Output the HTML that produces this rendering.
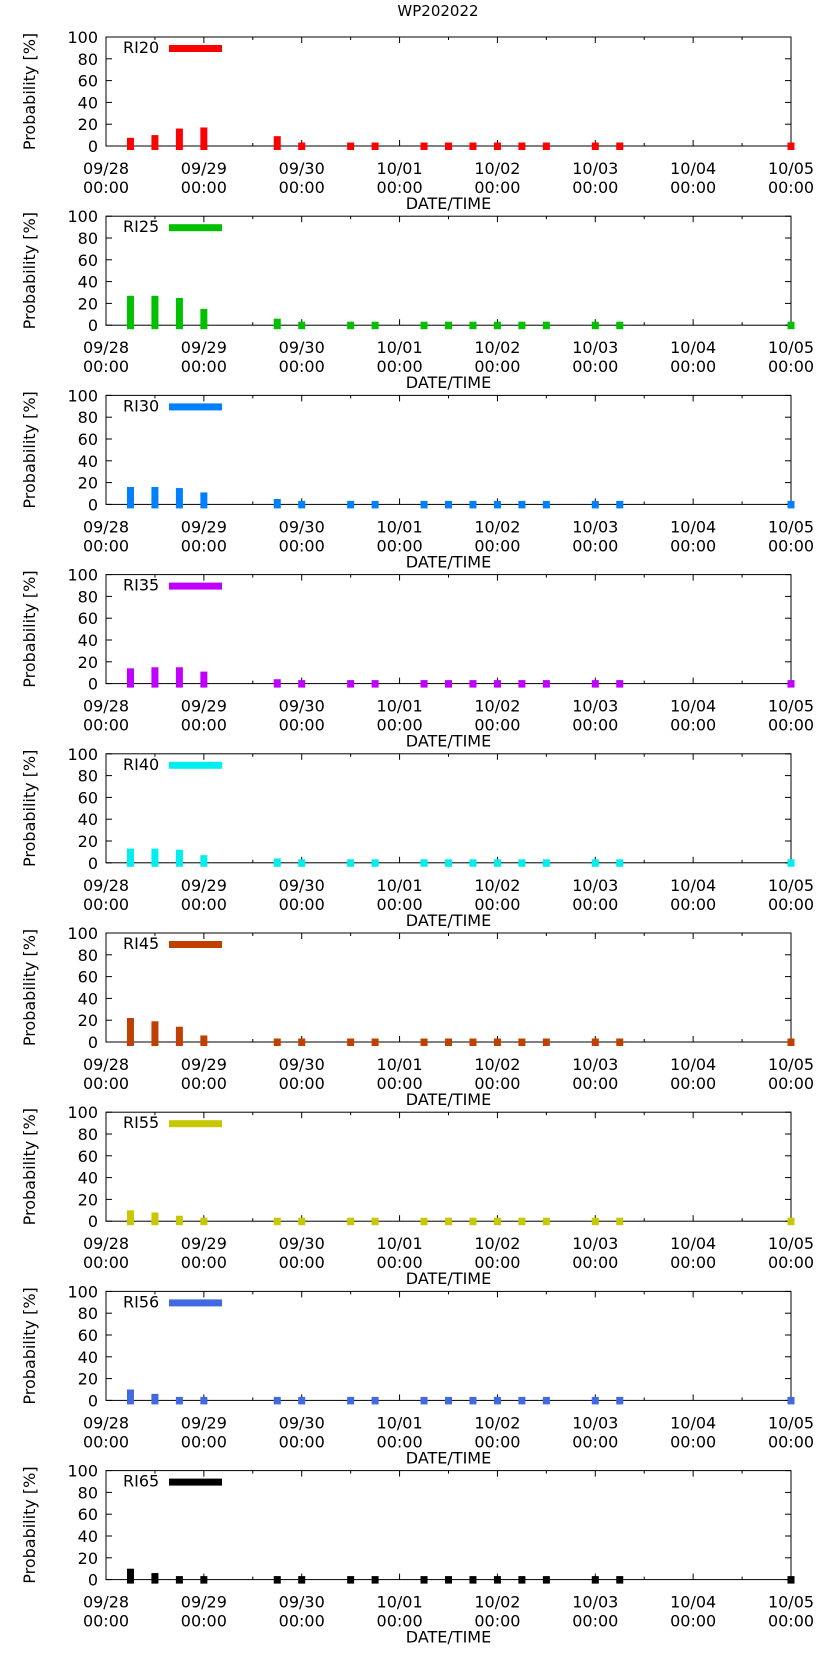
<!DOCTYPE html>
<html><head><meta charset="utf-8"><style>body{margin:0;background:#fff}svg{display:block}text{font-family:"DejaVu Sans","Liberation Sans",sans-serif;fill:#000}</style></head>
<body>
<svg id="c" width="822" height="1653" viewBox="0 0 822 1653" xmlns="http://www.w3.org/2000/svg">
<text x="438" y="16" font-size="15" text-anchor="middle">WP202022</text>
</svg>
<script>
const hours=[6,12,18,24,42,48,60,66,78,84,90,96,102,108,120,126,168];
const seriesNames=["RI20","RI25","RI30","RI35","RI40","RI45","RI55","RI56","RI65"];
const seriesColors=["#ff0000","#00c000","#0080ff","#c000ff","#00eeee","#c04000","#c8c800","#4169e1","#000000"];
const ri20=[7.5,10,16,17,9,0,0,0,0,0,0,0,0,0,0,0,0];
const ri25=[27,27,25,15,6,3,0,0,0,0,0,0,0,0,0,0,0];
const ri30=[16,16,15,11,5,2,0,0,0,0,0,0,0,0,0,0,0];
const ri35=[14,15,15,11,4,2,0,0,0,0,0,0,0,0,0,0,0];
const ri40=[13,13,12,7,4,2,0,0,0,0,0,0,0,0,0,0,0];
const ri45=[22,19,14,6,3,2,0,0,0,0,0,0,0,0,0,0,0];
const ri55=[10,8,5,3,1,1,0,0,0,0,0,0,0,0,0,0,0];
const ri56=[10,6,3,0,0,0,0,0,0,0,0,0,0,0,0,0,0];
const ri65=[10,6,3,0,0,0,0,0,0,0,0,0,0,0,0,0,0];
const allValues=[ri20,ri25,ri30,ri35,ri40,ri45,ri55,ri56,ri65];
const yTicks=[0,20,40,60,80,100];
const xTickDates=["09/28","09/29","09/30","10/01","10/02","10/03","10/04","10/05"];

const svg=document.getElementById('c');
const NS='http://www.w3.org/2000/svg';
const L=106,R=791,PH=109;
function mk(t,a,p){const e=document.createElementNS(NS,t);for(const k in a)e.setAttribute(k,a[k]);(p||svg).appendChild(e);return e;}
const xs=h=>L+(R-L)*h/168;
seriesNames.forEach((nm,i)=>{
  const top=37+i*179.2, bot=top+PH;
  const ys=v=>bot-PH*v/100;
  const g=mk('g',{});
  
  
  const f=mk('rect',{x:L,y:top,width:R-L,height:PH,fill:'none',stroke:'#000','stroke-width':1},g);
  
  
  yTicks.forEach(t=>{
    const y=ys(t);
    mk('line',{x1:L,x2:L+6,y1:y,y2:y,stroke:'#000'},g);
    mk('line',{x1:R,x2:R-6,y1:y,y2:y,stroke:'#000'},g);
    const tl=mk('text',{x:L-8,y:y+6,'font-size':16,'text-anchor':'end'},g);
    tl.textContent=t;
    
    
  });
  for(let h=0;h<=168;h+=12){
    const x=xs(h),len=h%24===0?6:3;
    mk('line',{x1:x,x2:x,y1:bot,y2:bot-len,stroke:'#000'},g);
    mk('line',{x1:x,x2:x,y1:top,y2:top+len,stroke:'#000'},g);
  }
  allValues[i].forEach((v,j)=>{
    const yt=Math.min(ys(v),bot-3.5);
    const b=mk('rect',{x:xs(hours[j])-3.5,y:yt,width:7,height:bot+4-yt,fill:seriesColors[i]},g);
    
    
  });
  xTickDates.forEach((d,k)=>{
    const x=xs(k*24);
    const t1=mk('text',{x:x,y:bot+28,'font-size':16,'text-anchor':'middle'},g);
    t1.textContent=d;
    
    
    const t2=mk('text',{x:x,y:bot+47,'font-size':16,'text-anchor':'middle'},g);
    t2.textContent='00:00';
    
    
  });
  const xt=mk('text',{x:(L+R)/2,y:bot+63,'font-size':16,'text-anchor':'middle'},g);
  xt.textContent='DATE/TIME';
  
  
  const yt=mk('text',{x:0,y:0,'font-size':16,'text-anchor':'middle',transform:`translate(35,${top+PH/2}) rotate(-90)`},g);
  yt.textContent='Probability [%]';
  
  
  const lt=mk('text',{x:123,y:top+16,'font-size':16},g);
  lt.textContent=nm;
  
  
  const ll=mk('rect',{x:169,y:top+8,width:53,height:7,fill:seriesColors[i]},g);
  
  
});
</script>
</body></html>
